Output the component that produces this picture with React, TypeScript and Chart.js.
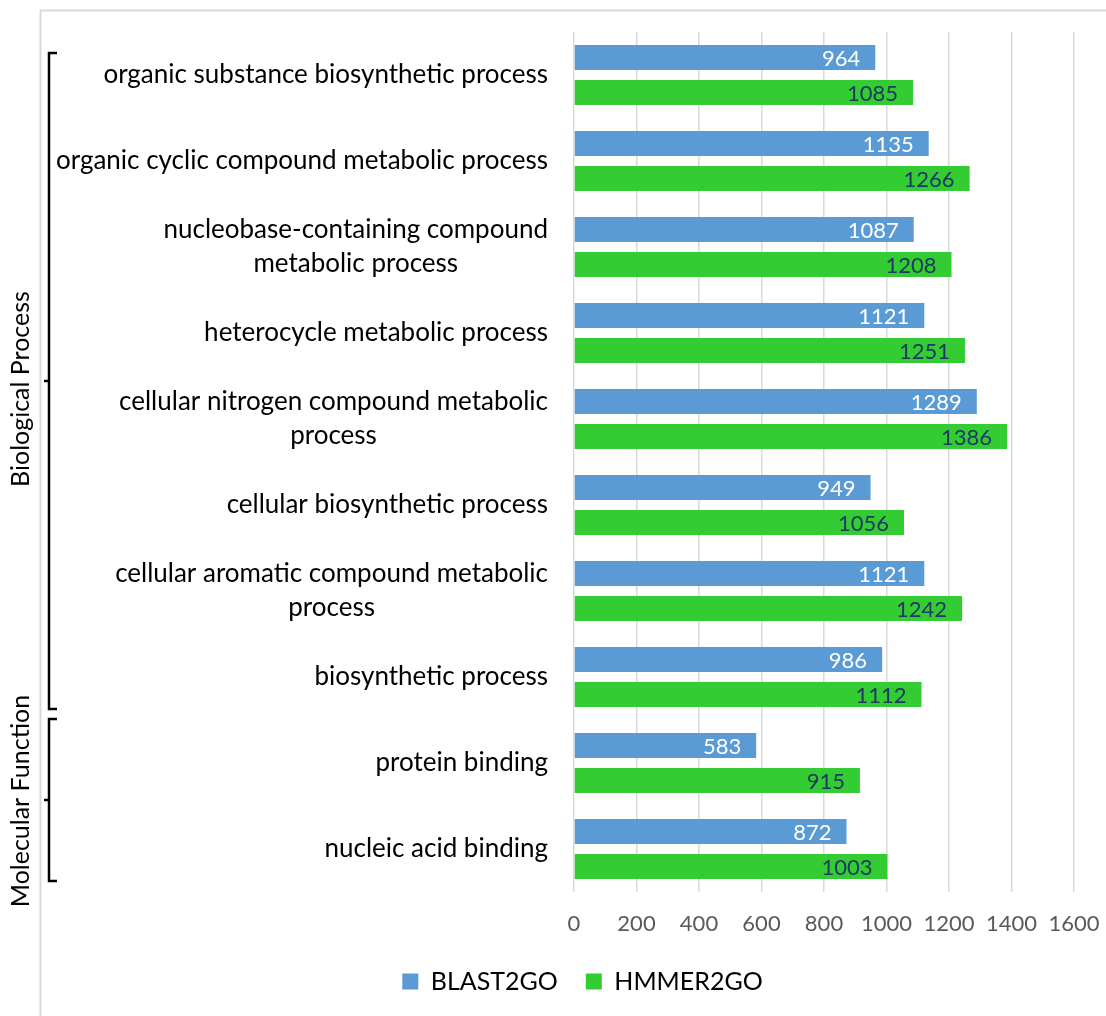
import React, { useEffect, useRef } from "react";
import { Chart, registerables } from "chart.js";

Chart.register(...registerables);

// GO terms, top to bottom
const categories: (string | string[])[] = [
  "organic substance biosynthetic process",
  "organic cyclic compound metabolic process",
  ["nucleobase-containing compound", "metabolic process"],
  "heterocycle metabolic process",
  ["cellular nitrogen compound metabolic", "process"],
  "cellular biosynthetic process",
  ["cellular aromatic compound metabolic", "process"],
  "biosynthetic process",
  "protein binding",
  "nucleic acid binding",
];

const blast2go = [964, 1135, 1087, 1121, 1289, 949, 1121, 986, 583, 872];
const hmmer2go = [1085, 1266, 1208, 1251, 1386, 1056, 1242, 1112, 915, 1003];

const xTickValues = [0, 200, 400, 600, 800, 1000, 1200, 1400, 1600];

// GO namespaces grouping the terms above (inclusive index ranges)
const groupNames = ["Biological Process", "Molecular Function"];
const groupFirst = [0, 8];
const groupLast = [7, 9];

const FONT = "Lato";
const BLUE = "#5B9BD5";
const GREEN = "#33CC33";

// bracket extents relative to the first/last category centre, label shift
const bracketTopOffset = [-22, -44];
const bracketBottomOffset = [32, 32];
const groupLabelShift = [8, 1];

const decorations = {
  id: "decorations",
  beforeDraw(chart: any) {
    const { ctx, width, height } = chart;
    ctx.save();
    ctx.fillStyle = "#ffffff";
    ctx.fillRect(0, 0, width, height);
    ctx.strokeStyle = "#d9d9d9";
    ctx.lineWidth = 2;
    ctx.strokeRect(40.5, 10.5, width + 100, height + 100);
    ctx.restore();
  },
  afterDatasetsDraw(chart: any) {
    const { ctx } = chart;
    ctx.save();
    ctx.font = `22px ${FONT}`;
    ctx.textAlign = "right";
    ctx.textBaseline = "middle";
    chart.data.datasets.forEach((ds: any, d: number) => {
      const meta = chart.getDatasetMeta(d);
      ctx.fillStyle = d === 0 ? "#ffffff" : "#203864";
      meta.data.forEach((bar: any, i: number) => {
        ctx.fillText(String(ds.data[i]), bar.x - 15, bar.y + 1);
      });
    });
    ctx.restore();
  },
  afterDraw(chart: any) {
    const { ctx, chartArea } = chart;
    const yScale = chart.scales.y;
    ctx.save();

    // category labels, multi-line blocks centred on their own width
    ctx.fillStyle = "#000000";
    ctx.font = `26px ${FONT}`;
    ctx.textAlign = "center";
    ctx.textBaseline = "middle";
    const right = chartArea.left - 26;
    const lineGap = 34;
    categories.forEach((label, i) => {
      const lines = Array.isArray(label) ? label : [label];
      const blockW = Math.max(...lines.map((l) => ctx.measureText(l).width));
      const cy = yScale.getPixelForValue(i);
      lines.forEach((line, k) => {
        const y = cy + (k - (lines.length - 1) / 2) * lineGap;
        ctx.fillText(line, right - blockW / 2, y);
      });
    });

    // namespace brackets and rotated names
    ctx.strokeStyle = "#000000";
    ctx.lineWidth = 2.5;
    ctx.lineJoin = "miter";
    const bx = 49;
    groupNames.forEach((name, g) => {
      const top = yScale.getPixelForValue(groupFirst[g]) + bracketTopOffset[g];
      const bottom = yScale.getPixelForValue(groupLast[g]) + bracketBottomOffset[g];
      const mid = (top + bottom) / 2;
      ctx.beginPath();
      ctx.moveTo(bx + 8, top);
      ctx.lineTo(bx, top);
      ctx.lineTo(bx, bottom);
      ctx.lineTo(bx + 8, bottom);
      ctx.stroke();
      ctx.beginPath();
      ctx.moveTo(bx, mid);
      ctx.lineTo(bx - 5, mid);
      ctx.stroke();

      ctx.save();
      ctx.translate(21, mid + groupLabelShift[g]);
      ctx.rotate(-Math.PI / 2);
      ctx.font = `25px ${FONT}`;
      ctx.fillStyle = "#000000";
      ctx.textAlign = "center";
      ctx.textBaseline = "middle";
      ctx.fillText(name, 0, 0);
      ctx.restore();
    });
    ctx.restore();
  },
};

export default function App() {
  const canvasRef = useRef<HTMLCanvasElement | null>(null);

  useEffect(() => {
    const canvas = canvasRef.current;
    if (!canvas) return;
    const chart = new Chart(canvas, {
      type: "bar",
      data: {
        labels: categories,
        datasets: [
          {
            label: "BLAST2GO",
            data: blast2go,
            backgroundColor: BLUE,
            categoryPercentage: 0.812,
            barPercentage: 0.714,
          },
          {
            label: "HMMER2GO",
            data: hmmer2go,
            backgroundColor: GREEN,
            categoryPercentage: 0.812,
            barPercentage: 0.714,
          },
        ],
      },
      options: {
        indexAxis: "y",
        responsive: false,
        animation: false,
        layout: { padding: { top: 32, right: 32, bottom: 12, left: 91 } },
        scales: {
          x: {
            min: 0,
            max: 1600,
            afterBuildTicks(scale: any) {
              scale.ticks = xTickValues.map((v) => ({ value: v }));
            },
            afterFit(scale: any) {
              scale.height = 49;
              scale.paddingLeft = 0;
              scale.paddingRight = 0;
            },
            ticks: {
              color: "#595959",
              font: { family: FONT, size: 22 },
              padding: 19,
              maxRotation: 0,
              callback: (v: any) => String(v),
            },
            grid: { color: "#d9d9d9", lineWidth: 1.5, drawTicks: false },
            border: { display: false },
          },
          y: {
            afterFit(scale: any) {
              scale.width = 483;
            },
            ticks: { display: false },
            grid: { display: false },
            border: { display: false },
          },
        },
        plugins: {
          legend: {
            position: "bottom",
            labels: {
              boxWidth: 16,
              boxHeight: 16,
              padding: 28,
              color: "#000000",
              font: { family: FONT, size: 25 },
            },
          },
          tooltip: { enabled: false },
        },
      },
      plugins: [decorations],
    });
    return () => chart.destroy();
  }, []);

  return (
    <div
      style={{
        position: "fixed",
        left: 0,
        top: 0,
        width: 1106,
        height: 1016,
        overflow: "hidden",
        background: "#ffffff",
      }}
    >
      <canvas ref={canvasRef} width={1106} height={1016} style={{ display: "block" }} />
    </div>
  );
}
